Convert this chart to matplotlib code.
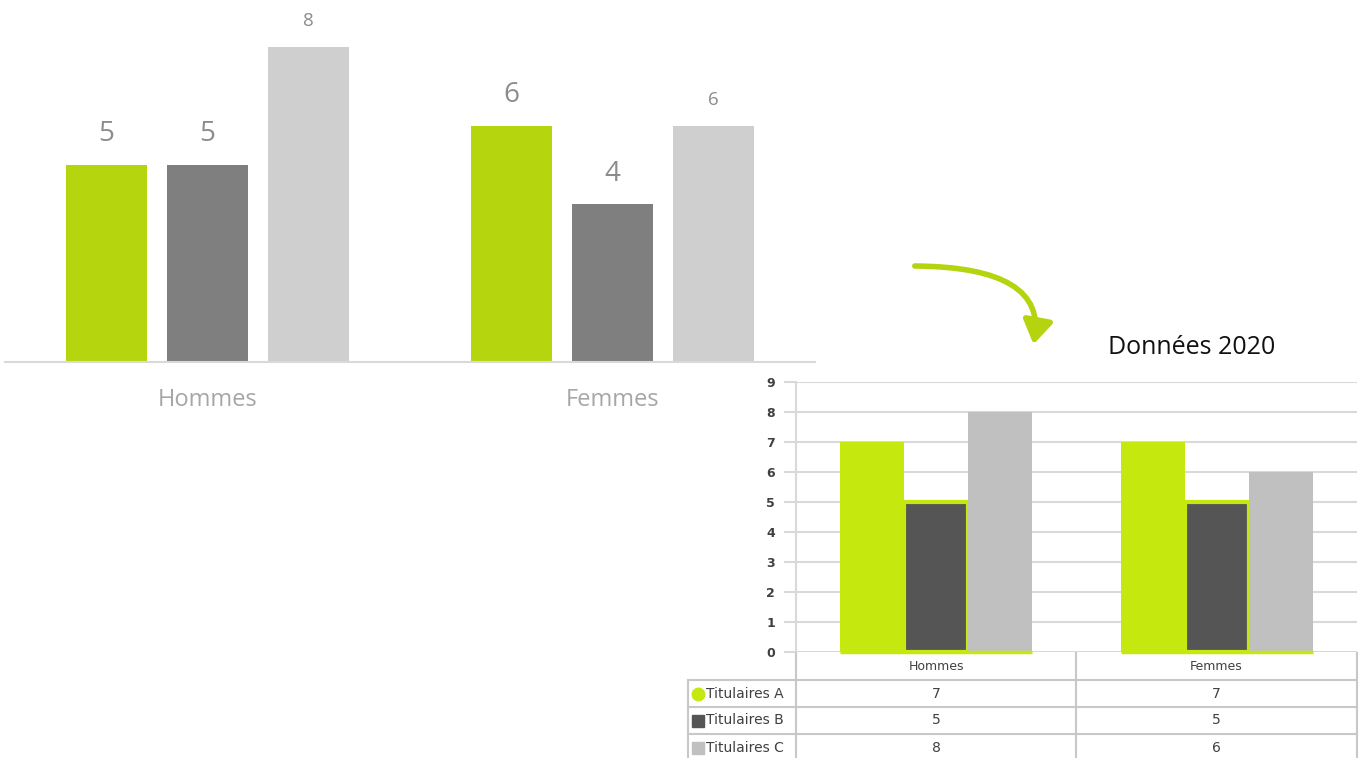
import numpy as np
import matplotlib.pyplot as plt
from matplotlib.patches import FancyArrowPatch

categories = ["Hommes", "Femmes"]
series = ["Titulaires A", "Titulaires B", "Titulaires C"]

# main chart values
main_a = [5, 6]
main_b = [5, 4]
main_c = [8, 6]

# 2020 source values
src_a = [7, 7]
src_b = [5, 5]
src_c = [8, 6]
src_ticks = list(range(0, 10))

W, H = 1365, 758
fig = plt.figure(figsize=(W / 100, H / 100), dpi=100)


def box(x0, y0, x1, y1):
    # pixel box (top-left origin) -> figure fraction rect
    return [x0 / W, 1 - y1 / H, (x1 - x0) / W, (y1 - y0) / H]


# ---- main chart ----
ax = fig.add_axes(box(5, 0, 815, 362))
x = np.arange(len(categories))
bw, off = 0.2, 0.25
main_cols = ["#b5d60f", "#7f7f7f", "#d0cfd0"]
main_sizes = [20, 20, 13.5]
for i, (vals, col, fs) in enumerate(zip([main_a, main_b, main_c], main_cols, main_sizes)):
    pos = x + (i - 1) * off
    ax.bar(pos, vals, width=bw, color=col)
    for p, v in zip(pos, vals):
        ax.annotate(str(v), (p, v), xytext=(0, 12), textcoords="offset points",
                    ha="center", va="bottom", fontsize=fs, color="#8c8c8c",
                    family="Open Sans")
ax.set_xlim(-0.5, 1.5)
ax.set_ylim(0, 9.19)
for s in ["top", "right", "left"]:
    ax.spines[s].set_visible(False)
ax.spines["bottom"].set_color("#d9d9d9")
ax.spines["bottom"].set_linewidth(1.5)
ax.set_yticks([])
ax.set_xticks(x)
ax.set_xticklabels(categories, fontsize=17, color="#a6a6a6", family="Open Sans")
ax.tick_params(axis="x", length=0, pad=19)

# ---- arrow and title ----
arrow = FancyArrowPatch((912 / W, 1 - 266 / H), (1033 / W, 1 - 347 / H),
                        transform=fig.transFigure,
                        connectionstyle="angle3,angleA=0,angleB=78",
                        arrowstyle="-|>,head_length=7,head_width=4.5",
                        color="#b5d40f", lw=4, mutation_scale=2)
fig.patches.append(arrow)
fig.text(1192 / W, 1 - 347 / H, "Données 2020", ha="center", va="center",
         fontsize=18, color="#111111", family="Open Sans")

# ---- source chart ----
narrow = ["Liberation Sans Narrow", "DejaVu Sans"]
ax2 = fig.add_axes(box(796, 382, 1357, 652))
src_cols = ["#c5e80f", "#555555", "#c0c0c0"]
sbw = 0.228
ax2.set_axisbelow(True)
ax2.bar(x - sbw, src_a, width=sbw, color=src_cols[0], zorder=2)
ax2.bar(x, src_b, width=sbw, color=src_cols[1], edgecolor=src_cols[0],
        linewidth=3, zorder=3)
ax2.bar(x + sbw, src_c, width=sbw, color=src_cols[2], zorder=4)
for c in x:
    ax2.plot([c - 1.5 * sbw, c + 1.5 * sbw], [0, 0], color=src_cols[0],
             lw=2.5, zorder=5, solid_capstyle="butt", clip_on=False)
ax2.set_xlim(-0.5, 1.5)
ax2.set_ylim(0, 9)
ax2.set_yticks(src_ticks)
ax2.set_yticklabels([str(t) for t in src_ticks], fontsize=9, fontweight="bold",
                    color="#404040", family=narrow)
ax2.tick_params(axis="y", length=9, color="#d9d9d9", width=1.5, pad=6)
ax2.set_xticks([])
ax2.grid(axis="y", color="#d9d9d9", lw=1.5)
for s in ["top", "right", "bottom"]:
    ax2.spines[s].set_visible(False)
ax2.spines["left"].set_color("#d9d9d9")
ax2.spines["left"].set_linewidth(1.5)

# ---- data table under the source chart ----
tb = fig.add_axes(box(680, 652, 1365, 758))
tb.set_xlim(680, 1365)
tb.set_ylim(758, 652)
tb.axis("off")
line = dict(color="#c8c8c8", lw=1.5)
row_edges = [680, 707, 734]
col_x = [936, 1216]
tb.plot([796, 796], [652, 758], **line)
tb.plot([1076, 1076], [652, 758], **line)
tb.plot([1357, 1357], [652, 758], **line)
tb.plot([688, 688], [680, 758], **line)
for y in row_edges:
    tb.plot([688, 1357], [y, y], **line)
for cx, cat in zip(col_x, categories):
    tb.text(cx, 666, cat, ha="center", va="center", fontsize=9,
            color="#404040", family=narrow)
markers = ["o", "s", "s"]
for r, (name, vals, col, mk) in enumerate(zip(series, [src_a, src_b, src_c],
                                               src_cols, markers)):
    yc = 693.5 + 27 * r
    tb.plot(698, yc, marker=mk, ms=9, color=col, ls="none")
    tb.text(706, yc, name, ha="left", va="center", fontsize=10,
            color="#404040", family=narrow)
    for cx, v in zip(col_x, vals):
        tb.text(cx, yc, str(v), ha="center", va="center", fontsize=10,
                color="#404040", family=narrow)

fig.savefig("out.png", dpi=100)
